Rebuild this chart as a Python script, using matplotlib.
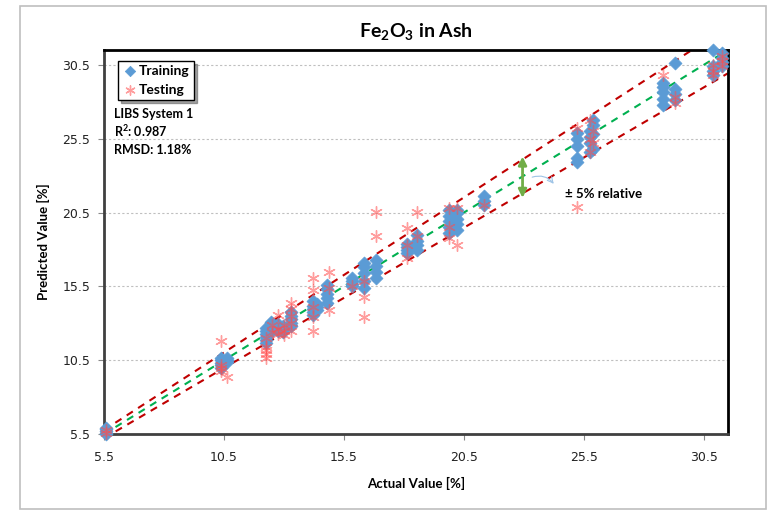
import numpy as np
import matplotlib
matplotlib.use("Agg")
import matplotlib.pyplot as plt
from matplotlib.patches import Rectangle

plt.rcParams['mathtext.fontset'] = 'custom'
plt.rcParams['mathtext.rm'] = 'Lato:bold'
plt.rcParams['mathtext.it'] = 'Lato:bold'
plt.rcParams['mathtext.bf'] = 'Lato:bold'

# Training set: actual vs predicted (%)
train_actual = [5.58, 5.58, 5.58, 5.58, 5.58,
                10.4, 10.4, 10.4, 10.4, 10.4,
                10.65, 10.65, 10.65,
                12.26, 12.26, 12.26, 12.26, 12.26, 12.26,
                12.45, 12.45, 12.45, 12.45,
                12.75, 12.75, 12.75,
                12.95, 12.95, 12.95,
                13.3, 13.3, 13.3, 13.3, 13.3,
                14.2, 14.2, 14.2, 14.2, 14.2,
                14.4, 14.4, 14.4,
                14.8, 14.8, 14.8, 14.8, 14.8,
                15.85, 15.85, 15.85, 15.85,
                16.35, 16.35, 16.35, 16.35, 16.35,
                16.85, 16.85, 16.85, 16.85,
                18.15, 18.15, 18.15, 18.15,
                18.55, 18.55, 18.55, 18.55,
                19.9, 19.9, 19.9, 19.9, 19.9,
                20.2, 20.2, 20.2, 20.2, 20.2,
                21.35, 21.35, 21.35,
                25.2, 25.2, 25.2, 25.2, 25.2,
                25.75, 25.75, 25.75, 25.75,
                25.9, 25.9, 25.9, 25.9,
                28.8, 28.8, 28.8, 28.8, 28.8,
                29.3, 29.3, 29.3, 29.3,
                30.9, 30.9, 30.9, 30.9,
                31.25, 31.25, 31.25, 31.25]
train_pred = [5.5, 5.6, 5.7, 5.85, 5.95,
              9.97, 10.15, 10.3, 10.5, 10.65,
              10.4, 10.55, 10.65,
              11.7, 11.9, 12.1, 12.3, 12.5, 12.7,
              12.4, 12.7, 13.0, 13.1,
              12.5, 12.8, 12.95,
              12.4, 12.6, 12.8,
              12.8, 13.0, 13.3, 13.5, 13.8,
              13.6, 13.8, 14.0, 14.2, 14.5,
              13.9, 14.1, 14.3,
              14.4, 14.7, 15.0, 15.3, 15.6,
              15.5, 15.7, 15.9, 16.1,
              15.4, 15.9, 16.4, 16.8, 17.1,
              16.1, 16.5, 16.9, 17.3,
              17.8, 18.0, 18.2, 18.4,
              17.95, 18.3, 18.6, 19.0,
              19.1, 19.5, 19.9, 20.3, 20.7,
              19.3, 19.7, 20.1, 20.5, 20.7,
              21.0, 21.3, 21.6,
              23.9, 24.2, 25.0, 25.5, 25.9,
              24.6, 25.2, 25.6, 26.0,
              24.8, 25.8, 26.4, 26.8,
              27.8, 28.2, 28.7, 29.0, 29.3,
              28.1, 28.5, 28.9, 30.6,
              29.8, 30.1, 30.4, 31.5,
              30.4, 30.7, 31.0, 31.3]

# Testing set: actual vs predicted (%)
test_actual = [5.58, 5.58,
               10.4, 10.4, 10.4, 10.4,
               10.65,
               12.26, 12.26, 12.26, 12.26, 12.26,
               12.5, 12.5,
               12.75, 12.75, 12.75,
               13.0, 13.0, 13.0,
               13.3, 13.3, 13.3, 13.3, 13.3,
               14.2, 14.2, 14.2, 14.2, 14.2,
               14.9, 14.9, 14.9,
               15.85,
               16.35, 16.35, 16.35,
               16.85, 16.85,
               18.15, 18.15, 18.15,
               18.55, 18.55,
               19.9, 19.9, 19.9,
               20.2, 20.2,
               21.35,
               25.2, 25.2,
               25.75, 25.75, 25.75,
               25.9, 25.9,
               28.8,
               29.3, 29.3,
               30.9, 30.9, 30.9,
               31.25, 31.25, 31.25]
test_pred = [5.6, 5.8,
             11.8, 10.0, 9.8, 10.2,
             9.4,
             10.65, 10.9, 11.2, 11.4, 12.0,
             12.4, 12.9,
             12.3, 12.6, 13.55,
             12.2, 12.5, 12.9,
             12.5, 13.0, 13.5, 14.0, 14.4,
             12.5, 13.4, 14.1, 15.25, 16.1,
             13.9, 15.4, 16.5,
             15.5,
             13.4, 14.8, 15.9,
             18.9, 20.55,
             17.4, 18.3, 19.45,
             18.9, 20.55,
             18.8, 19.5, 20.8,
             18.3, 20.8,
             21.0,
             20.9, 26.2,
             24.6, 25.5, 26.8,
             25.2, 26.0,
             29.8,
             27.9, 28.3,
             29.8, 30.1, 30.5,
             30.4, 30.8, 31.1]

ticks = [5.5, 10.5, 15.5, 20.5, 25.5, 30.5]
line_x = [5.5, 31.5]
rel_band = 0.05

fig = plt.figure(figsize=(7.7, 5.12), dpi=100)
ax = fig.add_axes([0.135, 0.152, 0.81, 0.75])

# reference lines (1:1 and +/-5%)
lx = np.array(line_x)
dash = (0, (3.5, 3))
ax.plot(lx, lx * (1 + rel_band), color='#C00000', lw=1.5, linestyle=dash, zorder=2)
ax.plot(lx, lx * (1 - rel_band), color='#C00000', lw=1.5, linestyle=dash, zorder=2)
ax.plot(lx, lx, color='#00B050', lw=1.5, linestyle=dash, zorder=2)

ax.scatter(train_actual, train_pred, marker='D', s=44, color='#5B9BD5',
           edgecolors='#5B9BD5', linewidths=0.5, zorder=3, label='Training',
           clip_on=False)
ax.scatter(test_actual, test_pred, marker=(6, 2, 0), s=70, color='#FF4D4D',
           alpha=0.55, linewidths=1.0, zorder=4, label='Testing', clip_on=False)

ax.set_xlim(5.5, 31.5)
ax.set_ylim(5.5, 31.5)
ax.set_xticks(ticks)
ax.set_yticks(ticks)
ax.set_xticklabels([str(t) for t in ticks])
ax.set_yticklabels([str(t) for t in ticks])
ax.tick_params(axis='both', labelsize=9, colors='#888888', labelcolor='#222222',
               length=4, width=0.8, direction='out')
ax.tick_params(axis='x', pad=8)
ax.tick_params(axis='y', pad=6)
ax.grid(axis='y', color='#BFBFBF', linestyle=(0, (2, 2)), lw=0.8)
ax.set_axisbelow(True)
for side in ['left', 'bottom']:
    ax.spines[side].set_color('#404040')
    ax.spines[side].set_linewidth(2)
for side in ['top', 'right']:
    ax.spines[side].set_color('black')
    ax.spines[side].set_linewidth(2)

# +/- 5% arrow and note
ax.annotate('', xy=(22.95, 21.5), xytext=(22.95, 24.3),
            arrowprops=dict(arrowstyle='<|-|>', color='#70AD47', lw=2,
                            mutation_scale=12, shrinkA=0, shrinkB=0), zorder=5)
ax.annotate('', xy=(24.32, 22.3), xytext=(23.24, 22.84),
            arrowprops=dict(arrowstyle='->', color='#9DC3E6', lw=0.8,
                            connectionstyle='arc3,rad=-0.4'), zorder=5)
ax.text(24.74, 21.76, '± 5% relative', fontsize=9.5, fontweight='bold',
        family=['Lato', 'DejaVu Sans'], va='center', ha='left')

leg = ax.legend(loc='upper left', bbox_to_anchor=(0.012, 0.99),
                prop={'family': 'Lato', 'weight': 'bold', 'size': 10},
                frameon=True, fancybox=False, shadow=True, handletextpad=0.1,
                borderpad=0.3, labelspacing=0.5, handlelength=1.1, markerscale=0.8)
leg.get_frame().set_edgecolor('black')
leg.get_frame().set_linewidth(1.0)
leg.set_zorder(6)

ax.text(0.016, 0.833, 'LIBS System 1', transform=ax.transAxes, fontsize=9,
        fontweight='bold', family='Lato', va='center')
ax.text(0.016, 0.789, 'R$^2$: 0.987', transform=ax.transAxes, fontsize=9,
        fontweight='bold', family='Lato', va='center')
ax.text(0.016, 0.740, 'RMSD: 1.18%', transform=ax.transAxes, fontsize=9,
        fontweight='bold', family='Lato', va='center')

fig.text(416 / 770, 1 - 32 / 512, 'Fe$_2$O$_3$ in Ash', fontsize=14,
         fontweight='bold', family='Lato', ha='center', va='center')
fig.text(416 / 770, 1 - 483 / 512, 'Actual Value [%]', fontsize=9.5,
         fontweight='bold', family='Lato', ha='center', va='center')
fig.text(43 / 770, 1 - 242 / 512, 'Predicted Value [%]', fontsize=9.5,
         fontweight='bold', family='Lato', ha='center', va='center', rotation=90)

# outer chart border
fig.patches.append(Rectangle((20 / 770, 3 / 512), 746 / 770, 503 / 512,
                             transform=fig.transFigure, fill=False,
                             edgecolor='#BFBFBF', lw=1.2))

fig.savefig('out.png', dpi=100)
